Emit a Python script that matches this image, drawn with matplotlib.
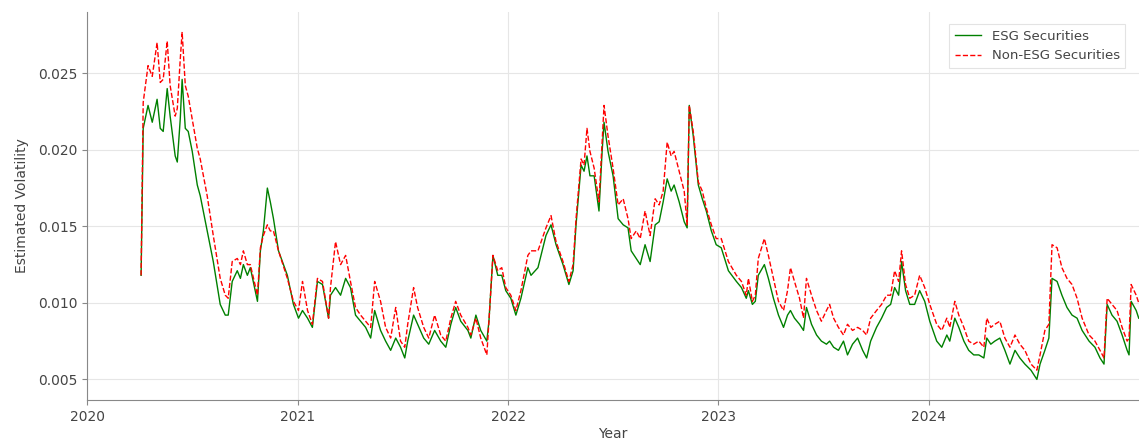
import matplotlib
matplotlib.use('Agg')

import matplotlib.pyplot as plt
import matplotlib.dates as mdates
import numpy as np
import pandas as pd

# time axis, in years after 2020-01-01
year_frac = [
    0.257, 0.267, 0.290, 0.310, 0.333, 0.348, 0.362, 0.381, 0.395, 0.419,
    0.429, 0.443, 0.452, 0.467, 0.481, 0.500, 0.524, 0.538, 0.571, 0.600,
    0.633, 0.657, 0.671, 0.690, 0.714, 0.729, 0.743, 0.762, 0.776, 0.810,
    0.824, 0.838, 0.857, 0.871, 0.886, 0.910, 0.952, 0.981, 1.005, 1.024,
    1.048, 1.071, 1.095, 1.119, 1.148, 1.157, 1.181, 1.205, 1.229, 1.252,
    1.276, 1.300, 1.324, 1.348, 1.367, 1.395, 1.419, 1.443, 1.467, 1.490,
    1.510, 1.524, 1.552, 1.571, 1.600, 1.624, 1.652, 1.681, 1.705, 1.729,
    1.752, 1.776, 1.810, 1.824, 1.848, 1.871, 1.900, 1.910, 1.929, 1.952,
    1.971, 1.990, 2.014, 2.038, 2.062, 2.095, 2.110, 2.143, 2.181, 2.205,
    2.229, 2.262, 2.290, 2.310, 2.324, 2.348, 2.362, 2.376, 2.390, 2.410,
    2.433, 2.448, 2.457, 2.476, 2.500, 2.524, 2.548, 2.571, 2.586, 2.610,
    2.629, 2.652, 2.676, 2.700, 2.719, 2.738, 2.757, 2.776, 2.790, 2.814,
    2.838, 2.852, 2.862, 2.881, 2.905, 2.924, 2.943, 2.967, 2.990, 3.014,
    3.048, 3.086, 3.110, 3.133, 3.143, 3.162, 3.176, 3.190, 3.219, 3.238,
    3.262, 3.286, 3.310, 3.329, 3.343, 3.362, 3.386, 3.405, 3.419, 3.443,
    3.467, 3.490, 3.514, 3.529, 3.548, 3.571, 3.595, 3.614, 3.638, 3.662,
    3.686, 3.705, 3.724, 3.752, 3.776, 3.800, 3.819, 3.838, 3.857, 3.871,
    3.890, 3.910, 3.933, 3.957, 3.981, 4.005, 4.038, 4.062, 4.086, 4.100,
    4.124, 4.143, 4.167, 4.190, 4.214, 4.238, 4.262, 4.276, 4.295, 4.314,
    4.338, 4.362, 4.386, 4.410, 4.433, 4.457, 4.486, 4.514, 4.529, 4.552,
    4.571, 4.586, 4.610, 4.633, 4.657, 4.681, 4.705, 4.729, 4.762, 4.790,
    4.814, 4.833, 4.848, 4.871, 4.895, 4.919, 4.943, 4.952, 4.962, 4.986,
    4.998,
]

non_esg_vol = [
    0.0118, 0.0231, 0.0255, 0.0248, 0.0270, 0.0244, 0.0246, 0.0271, 0.0242, 0.0222,
    0.0227, 0.0259, 0.0277, 0.0242, 0.0235, 0.0220, 0.0201, 0.0194, 0.0170, 0.0144,
    0.0116, 0.0105, 0.0103, 0.0127, 0.0129, 0.0125, 0.0134, 0.0125, 0.0125, 0.0105,
    0.0136, 0.0144, 0.0151, 0.0147, 0.0147, 0.0134, 0.0116, 0.0101, 0.0095, 0.0114,
    0.0095, 0.0086, 0.0116, 0.0114, 0.0090, 0.0110, 0.0140, 0.0125, 0.0131, 0.0114,
    0.0097, 0.0092, 0.0088, 0.0084, 0.0114, 0.0101, 0.0084, 0.0077, 0.0097, 0.0075,
    0.0071, 0.0086, 0.0110, 0.0097, 0.0084, 0.0077, 0.0092, 0.0079, 0.0075, 0.0090,
    0.0101, 0.0092, 0.0084, 0.0079, 0.0090, 0.0077, 0.0066, 0.0088, 0.0131, 0.0121,
    0.0123, 0.0110, 0.0105, 0.0095, 0.0108, 0.0131, 0.0134, 0.0134, 0.0149, 0.0157,
    0.0140, 0.0127, 0.0114, 0.0125, 0.0155, 0.0194, 0.0190, 0.0214, 0.0199, 0.0188,
    0.0166, 0.0205, 0.0229, 0.0209, 0.0188, 0.0164, 0.0168, 0.0155, 0.0142, 0.0147,
    0.0142, 0.0160, 0.0144, 0.0168, 0.0164, 0.0173, 0.0205, 0.0196, 0.0199, 0.0186,
    0.0173, 0.0151, 0.0229, 0.0212, 0.0179, 0.0173, 0.0162, 0.0151, 0.0142, 0.0142,
    0.0127, 0.0118, 0.0114, 0.0105, 0.0116, 0.0101, 0.0105, 0.0129, 0.0142, 0.0131,
    0.0116, 0.0101, 0.0095, 0.0108, 0.0123, 0.0114, 0.0103, 0.0090, 0.0116, 0.0105,
    0.0095, 0.0088, 0.0095, 0.0099, 0.0090, 0.0084, 0.0079, 0.0086, 0.0082, 0.0084,
    0.0082, 0.0079, 0.0090, 0.0095, 0.0099, 0.0105, 0.0105, 0.0121, 0.0114, 0.0134,
    0.0112, 0.0103, 0.0105, 0.0118, 0.0110, 0.0099, 0.0086, 0.0082, 0.0090, 0.0084,
    0.0101, 0.0092, 0.0084, 0.0075, 0.0073, 0.0075, 0.0071, 0.0090, 0.0084, 0.0086,
    0.0088, 0.0077, 0.0071, 0.0079, 0.0073, 0.0069, 0.0060, 0.0056, 0.0066, 0.0082,
    0.0086, 0.0138, 0.0136, 0.0123, 0.0116, 0.0112, 0.0103, 0.0090, 0.0079, 0.0075,
    0.0069, 0.0064, 0.0103, 0.0099, 0.0095, 0.0084, 0.0075, 0.0077, 0.0112, 0.0105,
    0.0100,
]

esg_vol = [
    0.0118, 0.0214, 0.0229, 0.0218, 0.0233, 0.0214, 0.0212, 0.0240, 0.0222, 0.0196,
    0.0192, 0.0220, 0.0246, 0.0214, 0.0212, 0.0199, 0.0177, 0.0170, 0.0147, 0.0127,
    0.0099, 0.0092, 0.0092, 0.0114, 0.0121, 0.0116, 0.0125, 0.0118, 0.0123, 0.0101,
    0.0134, 0.0147, 0.0175, 0.0166, 0.0155, 0.0134, 0.0118, 0.0099, 0.0090, 0.0095,
    0.0090, 0.0084, 0.0114, 0.0112, 0.0090, 0.0105, 0.0110, 0.0105, 0.0116, 0.0110,
    0.0092, 0.0088, 0.0084, 0.0077, 0.0095, 0.0082, 0.0075, 0.0069, 0.0077, 0.0071,
    0.0064, 0.0075, 0.0092, 0.0086, 0.0077, 0.0073, 0.0082, 0.0075, 0.0071, 0.0086,
    0.0097, 0.0088, 0.0082, 0.0077, 0.0092, 0.0082, 0.0075, 0.0088, 0.0131, 0.0118,
    0.0118, 0.0108, 0.0103, 0.0092, 0.0103, 0.0123, 0.0118, 0.0123, 0.0144, 0.0151,
    0.0138, 0.0125, 0.0112, 0.0121, 0.0151, 0.0190, 0.0186, 0.0196, 0.0183, 0.0183,
    0.0160, 0.0199, 0.0218, 0.0199, 0.0183, 0.0155, 0.0151, 0.0149, 0.0134, 0.0129,
    0.0125, 0.0138, 0.0127, 0.0151, 0.0153, 0.0166, 0.0181, 0.0173, 0.0177, 0.0166,
    0.0153, 0.0149, 0.0229, 0.0209, 0.0177, 0.0168, 0.0160, 0.0147, 0.0138, 0.0136,
    0.0121, 0.0114, 0.0110, 0.0103, 0.0108, 0.0099, 0.0101, 0.0118, 0.0125, 0.0116,
    0.0103, 0.0092, 0.0084, 0.0092, 0.0095, 0.0090, 0.0086, 0.0082, 0.0097, 0.0086,
    0.0079, 0.0075, 0.0073, 0.0075, 0.0071, 0.0069, 0.0075, 0.0066, 0.0073, 0.0077,
    0.0069, 0.0064, 0.0075, 0.0084, 0.0090, 0.0097, 0.0099, 0.0110, 0.0105, 0.0127,
    0.0108, 0.0099, 0.0099, 0.0108, 0.0101, 0.0088, 0.0075, 0.0071, 0.0079, 0.0075,
    0.0090, 0.0084, 0.0075, 0.0069, 0.0066, 0.0066, 0.0064, 0.0077, 0.0073, 0.0075,
    0.0077, 0.0069, 0.0060, 0.0069, 0.0064, 0.0060, 0.0056, 0.0050, 0.0060, 0.0069,
    0.0077, 0.0116, 0.0114, 0.0105, 0.0097, 0.0092, 0.0090, 0.0082, 0.0075, 0.0071,
    0.0064, 0.0060, 0.0099, 0.0092, 0.0088, 0.0079, 0.0069, 0.0066, 0.0101, 0.0095,
    0.0090,
]

start = pd.Timestamp('2020-01-01')
dates = start + pd.to_timedelta(np.array(year_frac) * 365.25, unit='D')

plt.rcParams['font.family'] = 'DejaVu Sans'
plt.rcParams['font.size'] = 10

fig = plt.figure(figsize=(11.39, 4.46), dpi=100)
ax = fig.add_axes([0.0764, 0.103, 0.9236, 0.870])

ax.plot(dates, esg_vol, color='green', lw=1.0, label='ESG Securities')
ax.plot(dates, non_esg_vol, color='red', lw=1.0, ls='--', label='Non-ESG Securities')

ax.set_xlim(pd.Timestamp('2020-01-01'), pd.Timestamp('2024-12-31'))
ax.set_ylim(0.00365, 0.0290)
ax.set_yticks([0.005, 0.010, 0.015, 0.020, 0.025])
ax.yaxis.set_major_formatter(plt.FormatStrFormatter('%.3f'))
ax.xaxis.set_major_locator(mdates.YearLocator())
ax.xaxis.set_major_formatter(mdates.DateFormatter('%Y'))

ax.grid(True, color='#e6e6e6', lw=0.8)
ax.set_axisbelow(True)
for side in ['top', 'right']:
    ax.spines[side].set_visible(False)
for side in ['left', 'bottom']:
    ax.spines[side].set_color('#888888')
ax.tick_params(colors='#888888', labelcolor='#444444', length=3.5)

ax.set_xlabel('Year', color='#444444', labelpad=2)
ax.set_ylabel('Estimated Volatility', color='#444444', labelpad=6)

leg = ax.legend(loc='upper right', fontsize=9.5, frameon=True, fancybox=False,
                bbox_to_anchor=(0.993, 0.985))
leg.get_frame().set_edgecolor('#dddddd')
leg.get_frame().set_linewidth(0.8)
for t in leg.get_texts():
    t.set_color('#444444')

fig.savefig('out.png', dpi=100)
